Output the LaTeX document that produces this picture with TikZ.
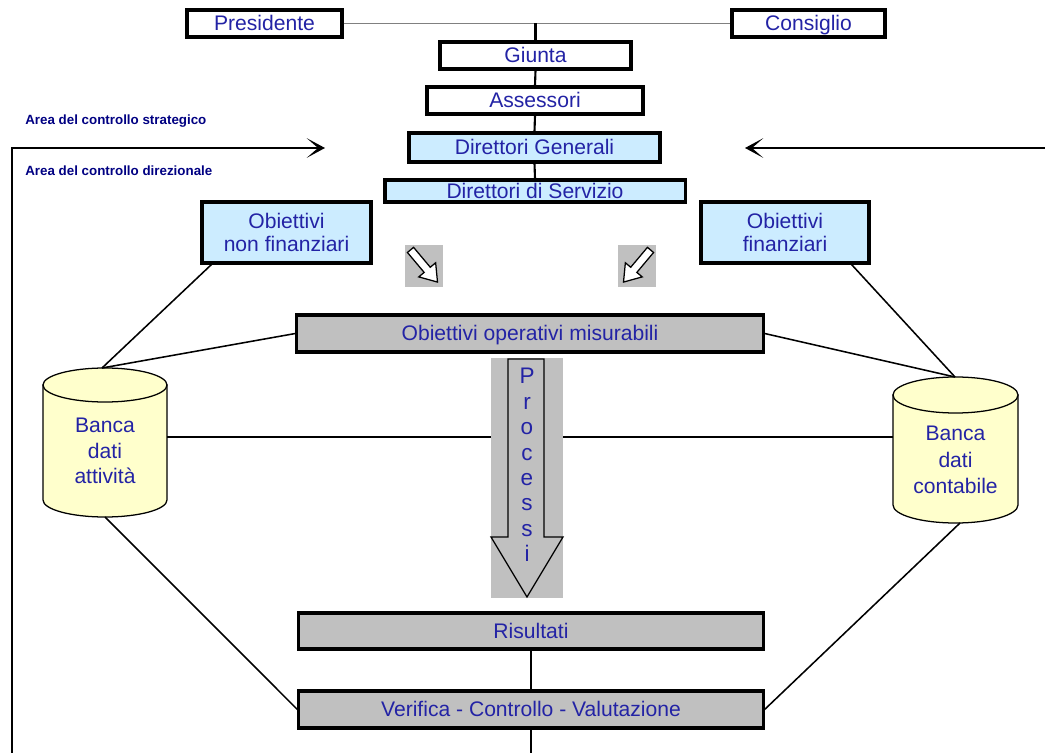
\documentclass[tikz,border=0pt]{standalone}
\usepackage{fontspec}
\setmainfont{Liberation Sans}
\usetikzlibrary{arrows.meta,calc}

\definecolor{txtblue}{RGB}{35,35,165}
\definecolor{navy}{RGB}{0,0,130}
\definecolor{lblue}{RGB}{204,236,255}
\definecolor{lgray}{RGB}{192,192,192}
\definecolor{lyellow}{RGB}{255,255,204}

\begin{document}
\begin{tikzpicture}[x=0.025cm,y=-0.025cm,
  basebox/.style={draw,line width=2.2pt,inner sep=0pt,text=txtblue,font=\fontsize{15}{17}\selectfont,align=center},
  oneline/.style={text height=12pt,text depth=2pt},
  wbox/.style={basebox,oneline,fill=white},
  bbox/.style={basebox,fill=lblue},
  gbox/.style={basebox,oneline,fill=lgray},
  conn/.style={line width=1.5pt},
  link/.style={line width=1.1pt},
  fb/.style={line width=1.7pt,-{Stealth[length=13pt,width=14pt,inset=8pt]}},
  dbtext/.style={text=txtblue,font=\fontsize{15}{18}\selectfont,align=center},
  area/.style={font=\fontsize{9.5}{11}\selectfont\bfseries,text=navy,anchor=west,inner sep=0pt}]

\useasboundingbox (0,0) rectangle (1045,753);

% vertici
\node[wbox,minimum width=3.875cm,minimum height=0.675cm] (pres) at (264.5,23.5) {Presidente};
\node[wbox,minimum width=3.825cm,minimum height=0.675cm] (cons) at (808.5,23.5) {Consiglio};
\node[wbox,minimum width=4.775cm,minimum height=0.675cm] (giunta) at (535.5,55.5) {Giunta};
\node[wbox,minimum width=5.4cm,minimum height=0.675cm] (assess) at (535,100.5) {Assessori};
\node[bbox,oneline,minimum width=6.275cm,minimum height=0.725cm] (dirgen) at (534.5,147.5) {Direttori Generali};
\node[bbox,oneline,minimum width=7.5cm,minimum height=0.55cm] (dirserv) at (535,191) {Direttori di Servizio};

\draw[line width=1.2pt,gray] (pres.east) -- (cons.west);
\draw[conn] (giunta.north) -- (giunta.north |- pres.east);
\draw[conn] (giunta.south) -- (assess.north);
\draw[conn] (assess.south) -- (dirgen.north);
\draw[conn] (dirgen.south) -- (dirserv.north);

% aree
\node[area] (strat) at (25,121) {Area del controllo strategico};
\node[area] (direz) at (25,171) {Area del controllo direzionale};

\coordinate (lbot) at (12,753);
\coordinate (ltip) at (325,148);
\coordinate (rstart) at (1045,148);
\coordinate (rtip) at (745,148);
\draw[fb] (lbot) |- (ltip);
\draw[fb] (rstart) -- (rtip);

% obiettivi
\node[bbox,minimum width=4.225cm,minimum height=1.525cm] (onf) at (286.5,232.5) {Obiettivi\\non finanziari};
\node[bbox,minimum width=4.2cm,minimum height=1.525cm] (ofin) at (785,232.5) {Obiettivi\\finanziari};

\node[fill=lgray,minimum width=0.95cm,minimum height=1.05cm,inner sep=0pt] (sqL) at (424,266) {};
\node[fill=lgray,minimum width=0.95cm,minimum height=1.05cm,inner sep=0pt] (sqR) at (637,266) {};
\begin{scope}[shift={(sqL.center)},rotate=-50]
\draw[fill=white,line width=0.9pt] (-21,-4) -- (5,-4) -- (5,-11) -- (21,0) -- (5,11) -- (5,4) -- (-21,4) -- cycle;
\end{scope}
\begin{scope}[shift={(sqR.center)},rotate=-130]
\draw[fill=white,line width=0.9pt] (-21,-4) -- (5,-4) -- (5,-11) -- (21,0) -- (5,11) -- (5,4) -- (-21,4) -- cycle;
\end{scope}

\node[gbox,minimum width=11.65cm,minimum height=0.925cm] (opm) at (530,333.5) {Obiettivi operativi misurabili};

% processi
\node[fill=lgray,minimum width=1.8cm,minimum height=6cm,inner sep=0pt] (procbg) at (527,478) {};
\draw[fill=lgray,line width=0.9pt] (508,359) -- (544,359) -- (544,537) -- (563,537) -- (527,597) -- (491,537) -- (508,537) -- cycle;
\node[dbtext,font=\fontsize{16}{18.1}\selectfont] (proc) at (527,465) {P\\r\\o\\c\\e\\s\\s\\i};

% banche dati
\filldraw[fill=lyellow,line width=0.9pt] (43,385) -- (43,500) arc[start angle=180,end angle=0,x radius=62,y radius=17] -- (167,385) -- cycle;
\filldraw[fill=lyellow,line width=0.9pt] (105,385) ellipse[x radius=62,y radius=17];
\node[dbtext] (dbA) at (105,451) {Banca\\dati\\attività};

\filldraw[fill=lyellow,line width=0.9pt] (893,395) -- (893,505) arc[start angle=180,end angle=0,x radius=62.5,y radius=18] -- (1018,395) -- cycle;
\filldraw[fill=lyellow,line width=0.9pt] (955.5,395) ellipse[x radius=62.5,y radius=18];
\node[dbtext,font=\fontsize{15}{19}\selectfont] (dbB) at (955.5,460) {Banca\\dati\\contabile};

\coordinate (dbAtop) at (102,368);
\coordinate (dbAbot) at (105,517);
\coordinate (dbAright) at (167,437);
\coordinate (dbBtop) at (955,377);
\coordinate (dbBbot) at (960,523);
\coordinate (dbBleft) at (893,437);

\draw[link] ($(onf.south west)+(11,0)$) -- (dbAtop);
\draw[link] ($(ofin.south east)+(-19,0)$) -- (dbBtop);
\draw[link] (opm.west) -- (dbAtop);
\draw[link] (opm.east) -- (dbBtop);
\draw[line width=1.9pt] (dbAright) -- (dbAright -| procbg.west);
\draw[line width=1.9pt] (procbg.east |- dbBleft) -- (dbBleft);

% risultati
\node[gbox,minimum width=11.6cm,minimum height=0.9cm] (ris) at (531,631) {Risultati};
\node[gbox,minimum width=11.6cm,minimum height=0.925cm] (verif) at (531,709.5) {Verifica - Controllo - Valutazione};
\coordinate (vbot) at (531,753);

\draw[link] (dbAbot) -- (verif.west);
\draw[link] (dbBbot) -- (verif.east);
\draw[line width=1.9pt] (ris.south) -- (verif.north);
\draw[line width=1.9pt] (verif.south) -- (vbot);
\end{tikzpicture}
\end{document}
